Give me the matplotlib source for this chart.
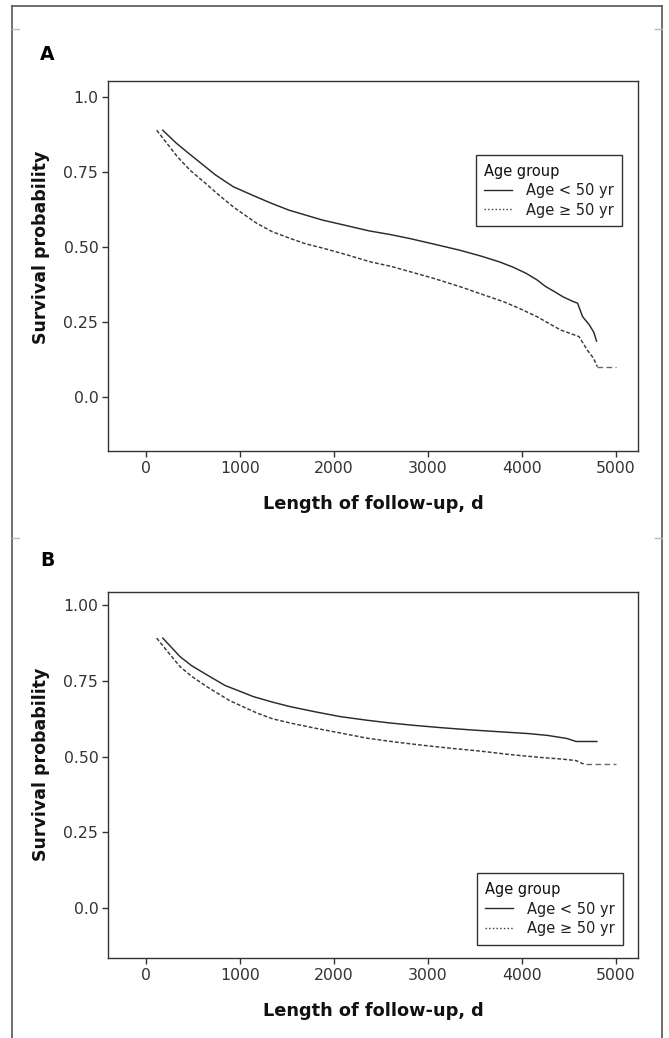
import matplotlib
matplotlib.use("Agg")
import matplotlib.pyplot as plt
from matplotlib.lines import Line2D

# ---------------- data ----------------
a_young_t = [180, 324, 456, 627, 742, 930, 1169, 1334, 1523, 1738, 1879, 2142, 2375, 2596, 2801,
             3051, 3335, 3556, 3761, 3909, 4045, 4162, 4258, 4364, 4436, 4546, 4595, 4649, 4720, 4768, 4797]
a_young_s = [0.888, 0.845, 0.811, 0.768, 0.739, 0.700, 0.667, 0.645, 0.622, 0.602, 0.589, 0.570, 0.553,
             0.541, 0.528, 0.510, 0.489, 0.470, 0.450, 0.432, 0.412, 0.390, 0.367, 0.348, 0.334, 0.318,
             0.312, 0.267, 0.240, 0.215, 0.186]
a_old_t = [115, 235, 335, 470, 640, 755, 942, 1181, 1346, 1535, 1700, 1890, 2153, 2386, 2607, 2812,
           3062, 3346, 3567, 3808, 3974, 4165, 4277, 4414, 4530, 4610, 4699, 4762, 4805]
a_old_s = [0.888, 0.840, 0.800, 0.755, 0.710, 0.678, 0.630, 0.578, 0.550, 0.528, 0.510, 0.495, 0.472,
           0.450, 0.435, 0.417, 0.395, 0.367, 0.343, 0.317, 0.295, 0.267, 0.247, 0.223, 0.210, 0.201,
           0.156, 0.130, 0.101]
a_old_tail_end = 5000

b_young_t = [180, 363, 487, 648, 841, 1144, 1346, 1535, 1800, 2070, 2357, 2600, 2862, 3165, 3468,
             3770, 4075, 4277, 4480, 4580, 4800]
b_young_s = [0.891, 0.830, 0.800, 0.770, 0.735, 0.698, 0.680, 0.665, 0.648, 0.632, 0.620, 0.611,
             0.603, 0.595, 0.588, 0.582, 0.576, 0.570, 0.560, 0.550, 0.550]
b_old_t = [115, 235, 363, 487, 648, 890, 1181, 1346, 1535, 1800, 2070, 2353, 2660, 2963, 3266, 3570,
           3873, 4176, 4430, 4580, 4640, 4680]
b_old_s = [0.891, 0.845, 0.797, 0.765, 0.731, 0.685, 0.644, 0.625, 0.611, 0.594, 0.578, 0.561, 0.548,
           0.537, 0.527, 0.518, 0.507, 0.498, 0.492, 0.487, 0.478, 0.475]
b_old_tail_end = 5000

x_ticks = [0, 1000, 2000, 3000, 4000, 5000]
a_y_ticks = [0.0, 0.25, 0.50, 0.75, 1.0]
a_y_labels = ["0.0", "0.25", "0.50", "0.75", "1.0"]
b_y_ticks = [0.0, 0.25, 0.50, 0.75, 1.0]
b_y_labels = ["0.0", "0.25", "0.50", "0.75", "1.00"]
legend_title = "Age group"
legend_labels = ["Age < 50 yr", "Age \u2265 50 yr"]
x_label = "Length of follow-up, d"
y_label = "Survival probability"

# ---------------- style ----------------
plt.rcParams["font.family"] = ["DejaVu Sans"]
W, H = 669, 1038
fig = plt.figure(figsize=(W / 100, H / 100), dpi=100)
fig.patch.set_facecolor("white")

SOLID_C = "#2a2a2a"
DOT_C = "#3a3a3a"
DOT_LS = (0, (2.6, 1.4))


def px_axes(left, top, right, bottom):
    return [left / W, 1 - bottom / H, (right - left) / W, (bottom - top) / H]


def panel(rect, yt, ytl, ylim, young_t, young_s, old_t, old_s, tail_end, leg_anchor, ylab_y):
    ax = fig.add_axes(rect)
    ax.plot(young_t, young_s, color=SOLID_C, lw=1.05)
    ax.plot(old_t, old_s, color=DOT_C, lw=1.05, linestyle=DOT_LS)
    ax.plot([old_t[-1], tail_end], [old_s[-1], old_s[-1]], color="#666666", lw=1.0,
            linestyle=(0, (4, 2.5)))
    ax.set_xlim(-400, 5235)
    ax.set_ylim(*ylim)
    ax.set_xticks(x_ticks)
    ax.set_xticklabels([str(v) for v in x_ticks])
    ax.set_yticks(yt)
    ax.set_yticklabels(ytl)
    for s in ax.spines.values():
        s.set_color("#333333")
        s.set_linewidth(1.0)
    ax.tick_params(axis="both", direction="out", length=4.2, width=1.0, color="#333333",
                   labelsize=11.3, labelcolor="#333333", pad=3.0)
    ax.set_xlabel(x_label, fontsize=12.8, fontweight="bold", color="#111111")
    ax.set_ylabel(y_label, fontsize=12.5, fontweight="bold", color="#111111")
    ax.xaxis.set_label_coords(0.5, -0.12)
    ax.yaxis.set_label_coords(-0.110, ylab_y)
    handles = [Line2D([], [], color=SOLID_C, lw=1.0),
               Line2D([], [], color=DOT_C, lw=1.0, linestyle=":")]
    leg = ax.legend(handles, legend_labels, title=legend_title, loc="upper right",
                    bbox_to_anchor=leg_anchor, borderaxespad=0, fontsize=10.5, title_fontsize=10.5,
                    handlelength=1.9, handletextpad=0.95, labelspacing=0.3, borderpad=0.6,
                    alignment="left", fancybox=False, framealpha=1, edgecolor="#333333")
    leg.get_frame().set_linewidth(1.0)
    for t in leg.get_texts():
        t.set_color("#222222")
    leg.get_title().set_color("#111111")
    return ax


# Panel A
axA_rect = px_axes(108.3, 81, 637.7, 451)
panel(axA_rect, a_y_ticks, a_y_labels, (-0.18, 1.052), a_young_t, a_young_s, a_old_t, a_old_s,
      a_old_tail_end, (0.971, 0.80), 0.55)
# Panel B
axB_rect = px_axes(108.3, 591.7, 637.7, 958)
panel(axB_rect, b_y_ticks, b_y_labels, (-0.164, 1.044), b_young_t, b_young_s, b_old_t, b_old_s,
      b_old_tail_end, (0.973, 0.231), 0.53)

# panel letters
fig.text(47 / W, 1 - 54 / H, "A", fontsize=13.5, fontweight="bold", ha="center", va="center")
fig.text(47 / W, 1 - 560 / H, "B", fontsize=13.5, fontweight="bold", ha="center", va="center")

# outer frame
fl, fr, ft = 12 / W, 662 / W, 1 - 6 / H
for xs, ys in [([fl, fl], [ft, -0.01]), ([fr, fr], [ft, -0.01]), ([fl, fr], [ft, ft])]:
    fig.add_artist(Line2D(xs, ys, transform=fig.transFigure, color="#555555", lw=1.2))
# small grey separator marks
for yy in [29, 538]:
    y = 1 - yy / H
    fig.add_artist(Line2D([fl, 19 / W], [y, y], transform=fig.transFigure, color="#bbbbbb", lw=1.0))
    fig.add_artist(Line2D([655 / W, fr], [y, y], transform=fig.transFigure, color="#bbbbbb", lw=1.0))

fig.savefig("out.png", dpi=100, facecolor="white")
